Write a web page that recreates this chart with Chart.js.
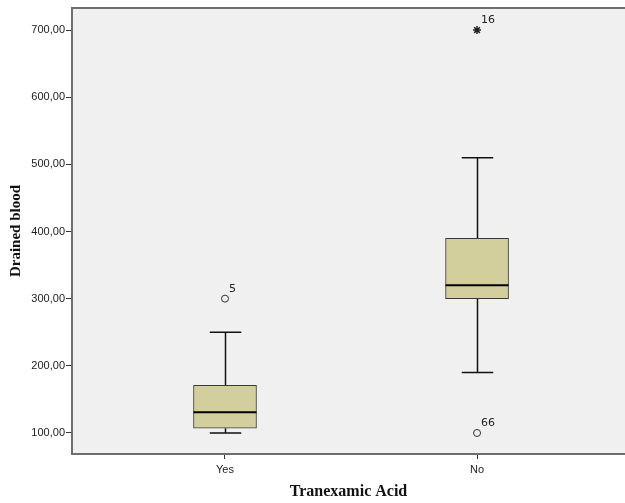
<!DOCTYPE html>
<html>
<head>
<meta charset="utf-8">
<script src="https://cdn.jsdelivr.net/npm/chart.js@4.4.1/dist/chart.umd.min.js"></script>
<style>
  html, body { margin: 0; padding: 0; background: #fff; overflow: hidden; }
  #wrap { width: 625px; height: 503px; position: relative; }
  canvas { display: block; }
</style>
</head>
<body>
<div id="wrap"><canvas id="c"></canvas></div>
<script>
// box plot stats
var groups = ['Yes', 'No'];
var groupX = [1, 2];
var whiskerLow = [100, 190];
var q1 = [107, 300];
var medians = [131, 320];
var q3 = [171, 390];
var whiskerHigh = [250, 510];

// outliers (circle) and extremes (star) with case numbers
var outlierX = [1, 2];
var outlierY = [300, 100];
var outlierIds = ['5', '66'];
var extremeX = [2];
var extremeY = [700];
var extremeIds = ['16'];

var yTicks = [100, 200, 300, 400, 500, 600, 700];

var frameColor = '#6e6e6e';

var boxPlugin = {
  id: 'boxparts',
  beforeDraw: function(chart) {
    var a = chart.chartArea, ctx = chart.ctx;
    ctx.save();
    ctx.fillStyle = '#f0f0f0';
    ctx.fillRect(a.left, a.top, a.right - a.left, a.bottom - a.top);
    ctx.restore();
  },
  beforeDatasetsDraw: function(chart) {
    var ctx = chart.ctx, xs = chart.scales.x, ys = chart.scales.y;
    var bars = chart.getDatasetMeta(0).data;
    ctx.save();
    ctx.strokeStyle = '#111';
    ctx.lineWidth = 1.5;
    groupX.forEach(function(gx, i) {
      var px = Math.round(xs.getPixelForValue(gx)) + 0.5;
      var half = bars[i].width / 4;
      [[q3[i], whiskerHigh[i]], [q1[i], whiskerLow[i]]].forEach(function(seg) {
        var yEnd = ys.getPixelForValue(seg[1]);
        ctx.beginPath();
        ctx.moveTo(px, ys.getPixelForValue(seg[0]));
        ctx.lineTo(px, yEnd);
        ctx.moveTo(px - half, yEnd);
        ctx.lineTo(px + half, yEnd);
        ctx.stroke();
      });
    });
    ctx.restore();
  },
  afterDatasetsDraw: function(chart) {
    var ctx = chart.ctx, xs = chart.scales.x, ys = chart.scales.y;
    var bars = chart.getDatasetMeta(0).data;
    ctx.save();
    ctx.strokeStyle = '#000';
    ctx.lineWidth = 2;
    groupX.forEach(function(gx, i) {
      var half = bars[i].width / 2;
      var px = xs.getPixelForValue(gx);
      var py = ys.getPixelForValue(medians[i]);
      ctx.beginPath();
      ctx.moveTo(px - half, py);
      ctx.lineTo(px + half, py);
      ctx.stroke();
    });
    // case numbers
    ctx.fillStyle = '#222';
    ctx.font = '11px "DejaVu Sans", sans-serif';
    ctx.textAlign = 'left';
    ctx.textBaseline = 'middle';
    var put = function(xv, yv, ids) {
      xv.forEach(function(v, i) {
        ctx.fillText(ids[i], xs.getPixelForValue(v) + 4, ys.getPixelForValue(yv[i]) - 10);
      });
    };
    put(outlierX, outlierY, outlierIds);
    put(extremeX, extremeY, extremeIds);
    // frame
    var a = chart.chartArea;
    ctx.strokeStyle = frameColor;
    ctx.lineWidth = 2;
    ctx.beginPath();
    ctx.moveTo(a.right, a.top);
    ctx.lineTo(a.left, a.top);
    ctx.lineTo(a.left, a.bottom);
    ctx.lineTo(a.right, a.bottom);
    ctx.stroke();
    ctx.restore();
  }
};

new Chart(document.getElementById('c'), {
  type: 'bar',
  data: {
    datasets: [{
      data: groupX.map(function(x, i) { return { x: x, y: [q1[i], q3[i]] }; }),
      backgroundColor: '#d3cf9c',
      borderColor: '#3a3a3a',
      borderWidth: 1,
      borderSkipped: false,
      barThickness: 63
    }, {
      type: 'scatter',
      data: outlierX.map(function(x, i) { return { x: x, y: outlierY[i] }; }),
      pointStyle: 'circle',
      pointRadius: 3.5,
      borderColor: '#333',
      backgroundColor: 'rgba(0,0,0,0)',
      borderWidth: 1
    }, {
      type: 'scatter',
      data: extremeX.map(function(x, i) { return { x: x, y: extremeY[i] }; }),
      pointStyle: 'star',
      pointRadius: 4,
      borderColor: '#222',
      borderWidth: 1.5
    }]
  },
  plugins: [boxPlugin],
  options: {
    responsive: true,
    maintainAspectRatio: false,
    animation: false,
    layout: { autoPadding: false, padding: { top: 8, left: 0, right: 0, bottom: 0 } },
    plugins: { legend: { display: false }, tooltip: { enabled: false } },
    scales: {
      x: {
        type: 'linear',
        min: 0.393,
        max: 2.587,
        offset: false,
        afterBuildTicks: function(s) { s.ticks = groupX.map(function(v) { return { value: v }; }); },
        afterFit: function(s) { s.height = 49; s.paddingLeft = 0; s.paddingRight = 0; },
        ticks: {
          callback: function(v) { return groups[groupX.indexOf(v)]; },
          color: '#222',
          font: { family: 'Liberation Sans', size: 11 },
          padding: 4,
          maxRotation: 0
        },
        grid: { drawOnChartArea: false, offset: false, tickLength: 5, color: '#333' },
        border: { display: false },
        title: {
          display: true,
          text: 'Tranexamic Acid',
          color: '#111',
          font: { family: 'Liberation Serif', size: 16, weight: 'bold' },
          padding: { top: 0, bottom: 2 }
        }
      },
      y: {
        min: 68.7,
        max: 732.8,
        afterBuildTicks: function(s) { s.ticks = yTicks.map(function(v) { return { value: v }; }); },
        afterFit: function(s) { s.width = 72; },
        ticks: {
          callback: function(v) { return v.toFixed(2).replace('.', ','); },
          color: '#222',
          font: { family: 'Liberation Sans', size: 11 },
          padding: 1
        },
        grid: { drawOnChartArea: false, tickLength: 6, color: '#333' },
        border: { display: false },
        title: {
          display: true,
          text: 'Drained blood',
          color: '#111',
          font: { family: 'Liberation Serif', size: 15, weight: 'bold' },
          padding: { top: 7, bottom: 0 }
        }
      }
    }
  }
});
</script>
</body>
</html>
